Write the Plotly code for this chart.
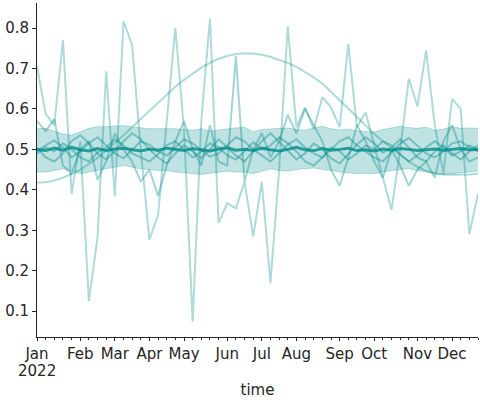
import pandas as pd
import plotly.graph_objects as go

# ---- data -------------------------------------------------------------
weeks = pd.date_range("2022-01-03", periods=52, freq="7D")

band_upper = [0.551,0.552,0.545,0.538,0.535,0.543,0.552,0.556,0.556,0.558,0.559,0.556,0.553,0.551,0.551,0.551,0.551,0.549,0.547,0.551,0.545,0.548,0.551,0.553,0.555,0.543,0.549,0.551,0.552,0.553,0.549,0.547,0.553,0.557,0.551,0.548,0.550,0.546,0.544,0.543,0.549,0.553,0.557,0.554,0.552,0.555,0.547,0.550,0.556,0.552,0.553,0.552]
band_lower = [0.444,0.444,0.448,0.452,0.447,0.440,0.444,0.448,0.452,0.456,0.460,0.456,0.452,0.450,0.448,0.448,0.444,0.442,0.440,0.438,0.441,0.444,0.446,0.444,0.444,0.440,0.446,0.452,0.448,0.446,0.450,0.452,0.454,0.450,0.448,0.444,0.442,0.440,0.441,0.440,0.444,0.448,0.450,0.452,0.448,0.444,0.440,0.438,0.440,0.442,0.444,0.446]

seasonal = [0.418,0.419,0.423,0.430,0.439,0.450,0.464,0.479,0.497,0.515,0.535,0.555,0.575,0.596,0.616,0.636,0.655,0.672,0.688,0.702,0.714,0.724,0.731,0.736,
            0.738,0.737,0.734,0.729,0.721,0.714,0.704,0.692,0.678,0.663,0.643,0.622,0.601,0.580,0.559,0.538,0.520,0.503,0.486,0.470,0.457,0.447,0.441,0.438,0.437,0.437,0.438,0.440]

spiky = [0.705,0.588,0.560,0.771,0.390,0.520,0.125,0.283,0.693,0.384,0.817,0.758,0.500,0.277,0.337,0.570,0.800,0.550,0.074,0.570,0.823,0.318,0.367,0.354,0.420,0.285,0.420,0.170,0.450,0.804,0.555,0.604,0.550,0.629,0.604,0.555,0.761,0.555,0.592,0.510,0.430,0.350,0.500,0.675,0.606,0.745,0.560,0.440,0.625,0.600,0.290,0.390]

medium = [0.570,0.545,0.575,0.460,0.440,0.500,0.520,0.425,0.470,0.540,0.500,0.470,0.420,0.450,0.385,0.460,0.520,0.570,0.500,0.460,0.560,0.470,0.460,0.730,0.420,0.500,0.540,0.480,0.520,0.585,0.540,0.600,0.560,0.520,0.450,0.410,0.480,0.560,0.520,0.470,0.430,0.500,0.460,0.410,0.450,0.470,0.430,0.520,0.560,0.500,0.470,0.480]

small_a = [0.495,0.510,0.522,0.505,0.480,0.495,0.515,0.530,0.510,0.490,0.478,0.500,0.520,0.512,0.495,0.485,0.505,0.525,0.515,0.498,0.482,0.490,0.510,0.530,0.520,0.500,0.485,0.470,0.490,0.512,0.525,0.505,0.490,0.480,0.500,0.520,0.530,0.510,0.495,0.480,0.470,0.492,0.515,0.528,0.510,0.490,0.480,0.495,0.515,0.520,0.505,0.495]
small_b = [0.505,0.480,0.470,0.490,0.520,0.535,0.515,0.490,0.475,0.495,0.520,0.540,0.525,0.500,0.480,0.465,0.490,0.510,0.495,0.478,0.500,0.525,0.505,0.485,0.470,0.495,0.520,0.540,0.518,0.495,0.475,0.490,0.515,0.500,0.478,0.465,0.488,0.512,0.530,0.515,0.492,0.505,0.525,0.505,0.480,0.470,0.495,0.510,0.490,0.475,0.495,0.510]
small_c = [0.490,0.505,0.495,0.515,0.500,0.480,0.470,0.492,0.505,0.525,0.510,0.490,0.480,0.470,0.488,0.510,0.520,0.500,0.480,0.495,0.515,0.505,0.485,0.475,0.495,0.518,0.500,0.510,0.530,0.515,0.495,0.470,0.460,0.480,0.505,0.495,0.475,0.490,0.510,0.500,0.520,0.510,0.488,0.470,0.485,0.505,0.520,0.505,0.485,0.495,0.510,0.500]

center = [0.500,0.497,0.503,0.498,0.505,0.499,0.496,0.502,0.497,0.501,0.503,0.499,0.496,0.501,0.498,0.503,0.500,0.497,0.502,0.499,0.496,0.501,0.504,0.498,0.500,0.497,0.503,0.499,0.496,0.500,0.505,0.499,0.497,0.502,0.498,0.500,0.503,0.497,0.499,0.496,0.501,0.498,0.502,0.500,0.497,0.499,0.501,0.498,0.500,0.502,0.499,0.500]

month_ticks = ["2022-01-03", "2022-02-07", "2022-03-07", "2022-04-04", "2022-05-02", "2022-06-06",
               "2022-07-04", "2022-08-01", "2022-09-05", "2022-10-03", "2022-11-07", "2022-12-05"]
month_labels = ["Jan", "Feb", "Mar", "Apr", "May", "Jun", "Jul", "Aug", "Sep", "Oct", "Nov", "Dec"]
year_label = "2022"
y_ticks = [0.1, 0.2, 0.3, 0.4, 0.5, 0.6, 0.7, 0.8]

# ---- figure -----------------------------------------------------------
base = "0,139,139"
ink = "#262626"
fig = go.Figure()

fig.add_trace(go.Scatter(x=weeks, y=band_lower, mode="lines",
                         line=dict(color=f"rgba({base},0.25)", width=1), showlegend=False, hoverinfo="skip"))
fig.add_trace(go.Scatter(x=weeks, y=band_upper, mode="lines", fill="tonexty",
                         fillcolor=f"rgba({base},0.25)",
                         line=dict(color=f"rgba({base},0.25)", width=1), showlegend=False, hoverinfo="skip"))

fig.add_trace(go.Scatter(x=weeks, y=seasonal, mode="lines",
                         line=dict(color=f"rgba({base},0.32)", width=2), showlegend=False))
fig.add_trace(go.Scatter(x=weeks, y=spiky, mode="lines",
                         line=dict(color=f"rgba({base},0.32)", width=2), showlegend=False))
fig.add_trace(go.Scatter(x=weeks, y=medium, mode="lines",
                         line=dict(color=f"rgba({base},0.36)", width=2), showlegend=False))
for s in (small_a, small_b, small_c):
    fig.add_trace(go.Scatter(x=weeks, y=s, mode="lines",
                             line=dict(color=f"rgba({base},0.4)", width=2), showlegend=False))
fig.add_trace(go.Scatter(x=weeks, y=center, mode="lines",
                         line=dict(color=f"rgba({base},0.8)", width=3), showlegend=False))

fig.add_annotation(x=month_ticks[0], y=0, xref="x", yref="paper", text=year_label,
                   showarrow=False, xanchor="center", yanchor="middle", yshift=-34,
                   font=dict(family="DejaVu Sans", size=15, color=ink))

fig.update_layout(
    width=480, height=400,
    margin=dict(l=37, r=2, t=3, b=63),
    paper_bgcolor="white", plot_bgcolor="white",
    font=dict(family="DejaVu Sans", size=15, color=ink),
    showlegend=False,
)
fig.update_xaxes(
    type="date", range=["2022-01-03", "2022-12-26"],
    tickmode="array", tickvals=month_ticks, ticktext=month_labels,
    ticks="outside", ticklen=3, tickwidth=1, tickcolor=ink,
    showline=True, linecolor=ink, linewidth=1, showgrid=False, zeroline=False,
    minor=dict(ticks="outside", ticklen=2, tickwidth=1, tickcolor=ink,
               dtick=7 * 86400000, tick0="2022-01-03", showgrid=False),
    title=dict(text="time", standoff=22, font=dict(size=15, color=ink)),
    automargin=False,
)
fig.update_yaxes(
    range=[0.036, 0.862], tickvals=y_ticks, ticktext=[f"{v:.1f}" for v in y_ticks],
    ticks="outside", ticklen=4, tickwidth=1, tickcolor=ink,
    showline=True, linecolor=ink, linewidth=1, showgrid=False, zeroline=False,
    automargin=False,
)

fig.write_html("out.html")
